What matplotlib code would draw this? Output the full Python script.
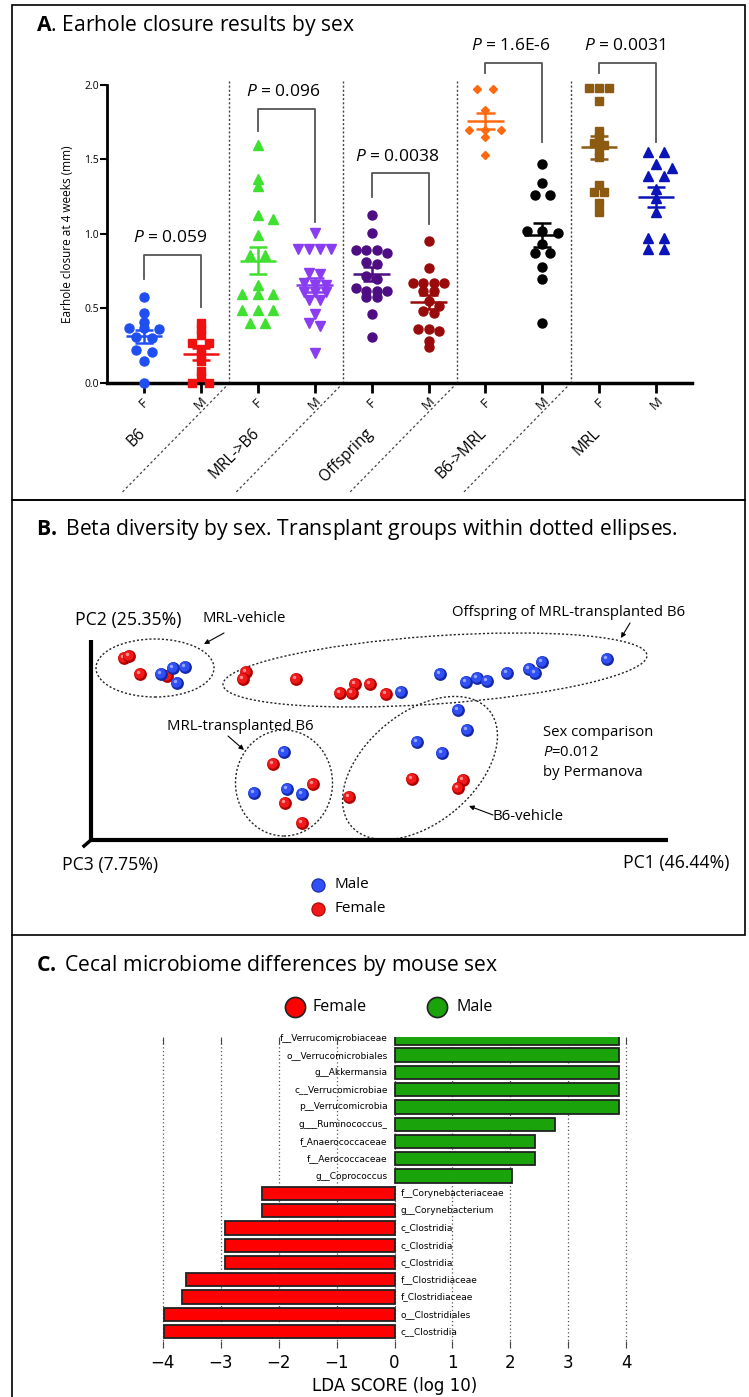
import matplotlib
matplotlib.use('Agg')
import matplotlib.pyplot as plt
import matplotlib.transforms as mtrans
from matplotlib.patches import Ellipse, Rectangle
import numpy as np

plt.rcParams['font.family'] = ['Open Sans', 'DejaVu Sans']
plt.rcParams['mathtext.fontset'] = 'custom'
plt.rcParams['mathtext.rm'] = 'Open Sans'
plt.rcParams['mathtext.it'] = 'Open Sans:italic'
plt.rcParams['mathtext.bf'] = 'Open Sans:bold'

# ---------------- panel A data ----------------
groups = ['B6', 'MRL->B6', 'Offspring', 'B6->MRL', 'MRL']
sexes = ['F', 'M']
b6_f = [0.58, 0.47, 0.41, 0.37, 0.37, 0.36, 0.31, 0.30, 0.22, 0.21, 0.15, 0.0]
b6_m = [0.40, 0.36, 0.32, 0.27, 0.27, 0.23, 0.19, 0.15, 0.08, 0.04, 0.0, 0.0]
mrlb6_f = [1.60, 1.37, 1.32, 1.13, 1.10, 0.99, 0.86, 0.86, 0.66, 0.60, 0.60, 0.60,
           0.49, 0.49, 0.49, 0.40, 0.40]
mrlb6_m = [1.01, 0.90, 0.90, 0.90, 0.90, 0.74, 0.73, 0.67, 0.66, 0.66, 0.61, 0.61,
           0.61, 0.56, 0.56, 0.46, 0.40, 0.38, 0.20]
off_f = [1.13, 1.01, 0.89, 0.89, 0.89, 0.87, 0.81, 0.80, 0.72, 0.70, 0.64, 0.62,
         0.62, 0.62, 0.58, 0.58, 0.46, 0.31]
off_m = [0.95, 0.77, 0.67, 0.67, 0.67, 0.67, 0.62, 0.62, 0.55, 0.52, 0.48, 0.47,
         0.36, 0.36, 0.35, 0.28, 0.24]
b6mrl_f = [1.97, 1.97, 1.83, 1.70, 1.70, 1.70, 1.65, 1.53]
b6mrl_m = [1.47, 1.34, 1.26, 1.26, 1.02, 1.02, 1.01, 0.93, 0.87, 0.87, 0.78, 0.70, 0.40]
mrl_f = [1.98, 1.98, 1.98, 1.89, 1.69, 1.65, 1.61, 1.60, 1.56, 1.52, 1.33, 1.28,
         1.28, 1.21, 1.15]
mrl_m = [1.55, 1.55, 1.47, 1.44, 1.39, 1.39, 1.30, 1.24, 1.15, 0.97, 0.97, 0.90, 0.90]
p_values = ['0.059', '0.096', '0.0038', '1.6E-6', '0.0031']

# ---------------- panel B data (PCoA projection) ----------------
male_x = [70, 82, 94, 86, 310, 349, 375, 386, 396, 416, 438, 444, 451, 516,
          193, 163, 196, 211, 367, 376, 326, 351]
male_y = [166, 172, 173, 157, 148, 166, 158, 162, 159, 167, 171, 167, 178, 181,
          88, 47, 51, 46, 130, 110, 98, 87]
female_x = [33, 38, 49, 76, 155, 152, 205, 264, 279, 249, 261, 295,
            182, 222, 194, 211, 321, 372, 367, 258]
female_y = [182, 184, 166, 164, 168, 161, 161, 156, 156, 147, 147, 146,
            76, 56, 37, 17, 61, 60, 52, 43]

# ---------------- panel C data (LEfSe) ----------------
taxa = ['f__Verrucomicrobiaceae', 'o__Verrucomicrobiales', 'g__Akkermansia',
        'c__Verrucomicrobiae', 'p__Verrucomicrobia', 'g___Ruminococcus_',
        'f_Anaerococcaceae', 'f__Aerococcaceae', 'g__Coprococcus',
        'f__Corynebacteriaceae', 'g__Corynebacterium', 'c_Clostridia',
        'c_Clostridia', 'c_Clostridia', 'f__Clostridiaceae', 'f_Clostridiaceae',
        'o__Clostridiales', 'c__Clostridia']
lda = [3.87, 3.87, 3.87, 3.87, 3.87, 2.78, 2.43, 2.43, 2.03,
       -2.29, -2.29, -2.92, -2.92, -2.92, -3.60, -3.67, -3.98, -3.98]

W, H = 749, 1397
fig = plt.figure(figsize=(W / 100, H / 100), dpi=100)


def px_axes(x0, y0, x1, y1):
    return fig.add_axes([x0 / W, 1 - y1 / H, (x1 - x0) / W, (y1 - y0) / H])


# background layer in pixel coordinates
bg = fig.add_axes([0, 0, 1, 1])
bg.set_xlim(0, W)
bg.set_ylim(H, 0)
bg.axis('off')
bg.add_patch(Rectangle((12, 5), 733, 495, fill=False, lw=1.2, ec='black'))
bg.add_patch(Rectangle((12, 500), 733, 435, fill=False, lw=1.2, ec='black'))
bg.plot([12, 12], [935, H], color='black', lw=1.2)

title_fs = 15.2
bg.text(36, 25, r'$\mathbf{A}$. Earhole closure results by sex', fontsize=title_fs, va='center')
bg.text(36, 529, r'$\mathbf{B.}$ Beta diversity by sex. Transplant groups within dotted ellipses.',
        fontsize=title_fs, va='center')
bg.text(36, 966, r'$\mathbf{C.}$ Cecal microbiome differences by mouse sex', fontsize=title_fs, va='center')

# ================= Panel A =================
axA = px_axes(107, 40, 692, 383)
axA.set_xlim(0.35, 10.63)
axA.set_ylim(0, 2.302)
blendA = mtrans.blended_transform_factory(axA.transData, axA.transAxes)
blendY = mtrans.blended_transform_factory(axA.transAxes, axA.transData)

series = [b6_f, b6_m, mrlb6_f, mrlb6_m, off_f, off_m, b6mrl_f, b6mrl_m, mrl_f, mrl_m]
colors = ['#1f4ff0', '#f01010', '#3fe030', '#8a3df0', '#4e0d82', '#990a0a',
          '#ff6a10', '#000000', '#8c5a10', '#0a14b8']
markers = ['o', 's', '^', 'v', 'o', 'o', 'D', 'o', 's', '^']
msizes = [6.5, 5.2, 6.5, 6.5, 6.5, 6.5, 3.8, 6.5, 5.2, 7.0]
steps = [0.27, 0.3, 0.27, 0.19, 0.18, 0.18, 0.28, 0.27, 0.18, 0.27]


def swarm(vals, center, step, tol=0.025, near=0.035):
    # rows of (almost) equal values spread symmetrically, nudged sideways if
    # they collide with a row just above
    gap = 0.6 * step
    vals = np.asarray(vals)
    order = np.argsort(-vals, kind='stable')
    xs = np.zeros(len(vals))
    rows = []
    for i in order:
        if rows and rows[-1][0] - vals[i] <= tol:
            rows[-1][1].append(i)
        else:
            rows.append([vals[i], [i]])
    placed = []
    for _, idx in rows:
        n = len(idx)
        base = [(k - (n - 1) / 2) * step for k in range(n)]
        chosen = [center + b for b in base]
        for shift in [0, 0.5, -0.5, 1, -1, 1.5, -1.5]:
            trial = [center + b + shift * step for b in base]
            ok = all(not (abs(tx - px) < gap and abs(vals[i] - py) < near)
                     for tx, i in zip(trial, idx) for px, py in placed)
            if ok:
                chosen = trial
                break
        for tx, i in zip(chosen, idx):
            xs[i] = tx
            placed.append((tx, vals[i]))
    return xs


for i, vals in enumerate(series):
    x = i + 1
    vals = np.asarray(vals)
    xs = swarm(vals, x, steps[i])
    axA.plot(xs, vals, ls='none', marker=markers[i], ms=msizes[i], color=colors[i],
             mec=colors[i], clip_on=False, zorder=3)
    m = vals.mean()
    s = vals.std(ddof=1) / np.sqrt(len(vals))
    kw = dict(color=colors[i], lw=1.8, zorder=4, solid_capstyle='butt')
    axA.plot([x - 0.32, x + 0.32], [m, m], **kw)
    axA.plot([x, x], [m - s, m + s], **kw)
    axA.plot([x - 0.16, x + 0.16], [m + s, m + s], **kw)
    axA.plot([x - 0.16, x + 0.16], [m - s, m - s], **kw)

# significance brackets
br_top = [0.86, 1.84, 1.41, 2.15, 2.15]
br_left = [0.70, 1.69, 1.25, 2.08, 2.08]
br_right = [0.51, 1.08, 1.07, 1.62, 1.62]
for g in range(5):
    xf, xm = 2 * g + 1, 2 * g + 2
    axA.plot([xf, xf, xm, xm], [br_left[g], br_top[g], br_top[g], br_right[g]],
             color='#555555', lw=1.3, clip_on=False)
    axA.text((xf + xm) / 2 - 0.05, br_top[g] + 0.11, r'$P$ = ' + p_values[g],
             ha='center', va='center', fontsize=12.5)

# group dividers
for xd in [2.5, 4.5, 6.5, 8.5]:
    axA.plot([xd, xd], [0, 2.03], ls=(0, (1.5, 1.5)), color='#444444', lw=1)
    axA.plot([xd, xd - 1.88], [0, -0.318], ls=(0, (2, 2)), color='#444444', lw=0.9,
             transform=blendA, clip_on=False)

axA.set_xticks(range(1, 11))
axA.set_xticklabels([])
for k in range(10):
    axA.text(k + 1, -0.058, sexes[k % 2], rotation=45, ha='center', va='center',
             fontsize=9.5, transform=blendA)
for g, name in enumerate(groups):
    axA.text(2 * g + 1 - 0.02, -0.14, name, rotation=45, ha='right', va='center',
             rotation_mode='anchor', fontsize=11.2, transform=blendA)

axA.set_yticks([0, 0.5, 1.0, 1.5, 2.0])
axA.set_yticklabels(['0.0', '0.5', '1.0', '1.5', '2.0'], fontsize=7.5)
axA.tick_params(axis='y', length=5, width=1.5, pad=1)
axA.tick_params(axis='x', length=7, width=2)
axA.text(-0.067, 1.0, 'Earhole closure at 4 weeks (mm)', rotation=90, ha='center',
         va='center', fontsize=8.5, transform=blendY)
for sp in ['top', 'right']:
    axA.spines[sp].set_visible(False)
axA.spines['left'].set_bounds(0, 2.0)
axA.spines['left'].set_linewidth(2)
axA.spines['bottom'].set_linewidth(2.5)
axA.patch.set_visible(False)

# ================= Panel B =================
axB = px_axes(12, 500, 745, 935)
axB.set_xlim(-79, 654)
axB.set_ylim(-95, 340)
axB.axis('off')
axB.patch.set_visible(False)

axB.plot([0, 0], [0, 200], color='black', lw=3, solid_capstyle='butt')
axB.plot([0, 577], [0, 0], color='black', lw=3, solid_capstyle='butt')
axB.plot([0, -7], [0, -6], color='black', lw=2.5)

ellipses = [((64, 172), 118, 58, 0), ((344, 170), 425, 68, 4),
            ((193, 57), 97, 106, 0), ((329, 72), 180, 110, 40)]
for (c, w, h, a) in ellipses:
    axB.add_patch(Ellipse(c, w, h, angle=a, fill=False, ls=(0, (1.5, 1.5)),
                          lw=1, ec='#222222'))

sphere_red = ('#b00000', '#f01818', '#ff9a9a')
sphere_blue = ('#1428a8', '#3050f5', '#a0b0ff')


def sphere(ax, x, y, cols, z):
    ax.scatter([x], [y], s=85, color=cols[0], zorder=z, lw=0)
    ax.scatter([x - 0.8], [y + 0.8], s=55, color=cols[1], zorder=z + 0.1, lw=0)
    ax.scatter([x - 2.2], [y + 2.2], s=6, color=cols[2], zorder=z + 0.2, lw=0, alpha=0.9)


z = 3
for x, y in zip(female_x, female_y):
    sphere(axB, x, y, sphere_red, z)
    z += 1
for x, y in zip(male_x, male_y):
    sphere(axB, x, y, sphere_blue, z)
    z += 1

txt_fs = 10.7
bg.text(75, 620, 'PC2 (25.35%)', fontsize=12.7, va='center')
bg.text(202, 619, 'MRL-vehicle', fontsize=txt_fs, va='center')
bg.text(452, 613, 'Offspring of MRL-transplanted B6', fontsize=txt_fs, va='center')
bg.text(167, 726, 'MRL-transplanted B6', fontsize=txt_fs, va='center')
bg.text(543, 733, 'Sex comparison', fontsize=txt_fs, va='center')
bg.text(543, 752, r'$P$=0.012', fontsize=txt_fs, va='center')
bg.text(543, 773, 'by Permanova', fontsize=txt_fs, va='center')
bg.text(493, 817, 'B6-vehicle', fontsize=txt_fs, va='center')
bg.text(62, 865, 'PC3 (7.75%)', fontsize=12.7, va='center')
bg.text(623, 863, 'PC1 (46.44%)', fontsize=12.7, va='center')

arrow_kw = dict(arrowstyle='-|>', lw=0.8, color='black', mutation_scale=7,
                shrinkA=0, shrinkB=0)
for tail, head in [((224, 633), (204, 644)), ((630, 623), (621, 638)),
                   ((228, 736), (244, 750)), ((493, 815), (469, 806))]:
    bg.annotate('', xy=head, xytext=tail, arrowprops=arrow_kw)

bg.plot([318], [885], 'o', ms=9.5, color='#3050f5', mec='#1428a8', mew=0.8)
bg.plot([318], [909], 'o', ms=9.5, color='#f01818', mec='#b00000', mew=0.8)
bg.text(334, 885, 'Male', fontsize=11, va='center')
bg.text(334, 909, 'Female', fontsize=11, va='center')

# ================= Panel C =================
bg.plot([295], [1007], 'o', ms=14.5, color='#ff0000', mec='#222222', mew=1.2)
bg.plot([437], [1007], 'o', ms=14.5, color='#1aa30a', mec='#222222', mew=1.2)
bg.text(313, 1007, 'Female', fontsize=11.5, va='center')
bg.text(457, 1007, 'Male', fontsize=11.5, va='center')

axC = px_axes(160, 1037, 629, 1348)
axC.set_xlim(-4.05, 4.05)
axC.set_ylim(-0.95, 17.05)
ypos = np.arange(len(taxa))[::-1]
bar_cols = ['#1aa30a' if v > 0 else '#ff0000' for v in lda]
axC.barh(ypos, lda, height=0.77, color=bar_cols, edgecolor='#222222', lw=1.3, zorder=2)
for yy, name, v in zip(ypos, taxa, lda):
    if v > 0:
        axC.text(-0.12, yy, name, ha='right', va='center', fontsize=6.5,
                 family='DejaVu Sans', zorder=3)
    else:
        axC.text(0.1, yy, name, ha='left', va='center', fontsize=6.5,
                 family='DejaVu Sans', zorder=3)
axC.set_xticks(range(-4, 5))
axC.set_xticklabels(['\u22124', '\u22123', '\u22122', '\u22121', '0', '1', '2', '3', '4'],
                    fontsize=12, family='DejaVu Sans')
axC.set_yticks([])
axC.grid(axis='x', ls=(0, (1, 2)), color='#555555', lw=0.9)
axC.set_axisbelow(True)
axC.tick_params(axis='x', direction='in', top=True, length=5, color='#444444', pad=4)
for sp in axC.spines.values():
    sp.set_visible(False)
axC.set_xlabel('LDA SCORE (log 10)', fontsize=12, family='DejaVu Sans', labelpad=4)
axC.patch.set_visible(False)

fig.savefig('out.png', dpi=100)
